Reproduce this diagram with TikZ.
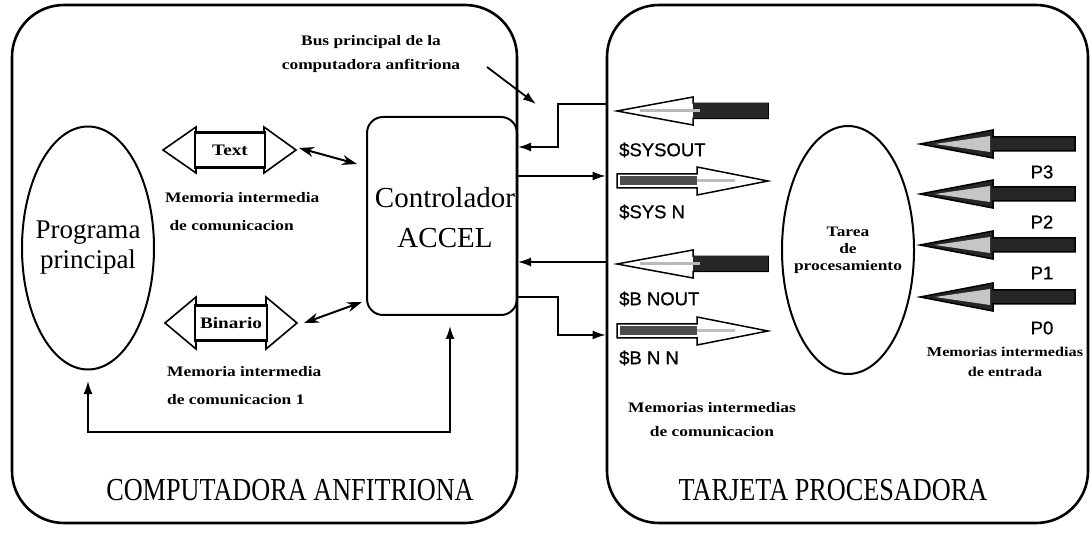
\documentclass[tikz,border=0pt]{standalone}
\usepackage{fontspec}
\setmainfont{Liberation Serif}
\newfontfamily\lblfont[FakeStretch=1.2]{Liberation Serif}
\newfontfamily\ttlfont[FakeStretch=0.82]{Liberation Serif}
\newfontfamily\lsans[FakeBold=0.8]{Liberation Sans}
\usetikzlibrary{arrows.meta,shapes.geometric,calc}

\tikzset{
  frame/.style={draw, line width=2.6pt, rounded corners=52pt, inner sep=0},
  ctrlbox/.style={draw, line width=2pt, rounded corners=16pt, inner sep=0},
  oval/.style={ellipse, draw, line width=2pt, inner sep=0},
  bigtxt/.style={font=\fontsize{27}{30}\selectfont, align=center, inner sep=0},
  ctrltxt/.style={font=\fontsize{29}{40}\selectfont, align=center, inner sep=0},
  ttl/.style={font=\ttlfont\fontsize{32}{38}\selectfont, inner sep=0},
  lbl/.style={font=\lblfont\bfseries\fontsize{14.5}{#1}\selectfont, inner sep=0},
  lbl/.default=26,
  sanslbl/.style={font=\lsans\fontsize{18.5}{22}\selectfont, inner sep=0, anchor=west},
  membox/.style={draw, line width=2.6pt, fill=white, minimum width=70pt, minimum height=35pt, inner sep=0, font=\lblfont\bfseries\fontsize{16}{18}\selectfont},
  memhead/.style={draw, line width=1.6pt, fill=white, line join=miter},
  conn/.style={line width=1.8pt},
  tipr/.style={-{Latex[length=13pt,width=9pt]}},
  dbl/.style={line width=2pt, {Stealth[length=15pt,width=10pt]}-{Stealth[length=15pt,width=10pt]}},
  outline/.style={draw, line width=1.5pt, fill=white, line join=miter},
}

% left-pointing block arrow: tipx, basex, tailx, y, half head, half shaft
\newcommand{\blkL}[6]{%
  \path[outline] (#1,#4) -- (#2,#4-#5) -- (#2,#4-#6) -- (#3,#4-#6) -- (#3,#4+#6) -- (#2,#4+#6) -- (#2,#4+#5) -- cycle;}
% right-pointing block arrow: tailx, basex, tipx, y, half head, half shaft
\newcommand{\blkR}[6]{%
  \path[outline] (#3,#4) -- (#2,#4-#5) -- (#2,#4-#6) -- (#1,#4-#6) -- (#1,#4+#6) -- (#2,#4+#6) -- (#2,#4+#5) -- cycle;}

\begin{document}
\begin{tikzpicture}[x=1pt,y=-1pt]
\useasboundingbox (0,0) rectangle (1092,534);

% frames
\node[frame, minimum width=505pt, minimum height=518pt] (host) at (264.5,264) {};
\node[frame, minimum width=481pt, minimum height=518pt] (card) at (847.5,264) {};

% host computer contents
\node[oval, minimum width=132pt, minimum height=243pt] (prog) at (88,248) {};
\node[bigtxt] (progtxt) at (prog.center) {Programa\\principal};

\node[ctrlbox, minimum width=150pt, minimum height=198pt] (ctrl) at (442,216) {};
\node[ctrltxt] (ctrltxt) at (445,218) {Controlador\\ACCEL};

% memory buffer "Text"
\path[memhead] (163,150) -- (196,127) -- (196,141) -- (264,141) -- (264,127) -- (296,150)
  -- (264,173) -- (264,159) -- (196,159) -- (196,173) -- cycle;
\node[membox] (txt) at (230,150) {Text};
\node[lbl=28, anchor=west, align=left] (m1) at (165,212) {Memoria intermedia\\\ de comunicacion};

% memory buffer "Binario"
\path[memhead] (165,323) -- (196,297) -- (196,314) -- (266,314) -- (266,297) -- (297,323)
  -- (266,349) -- (266,332) -- (196,332) -- (196,349) -- cycle;
\node[membox, minimum width=72pt] (bin) at (231,323) {Binario};
\node[lbl=28, anchor=west, align=left] (m2) at (167,386) {Memoria intermedia\\de comunicacion 1};

% double arrows to controller
\coordinate (d1a) at (299,148);
\coordinate (d1b) at (357,164);
\draw[dbl] (d1a) -- (d1b);
\coordinate (d2a) at (304,323);
\coordinate (d2b) at (362,302);
\draw[dbl] (d2a) -- (d2b);

% bus label and arrow
\node[lbl=24, align=center] (bus) at (371,54) {Bus principal de la\\computadora anfitriona};
\coordinate (busa) at (487,67);
\coordinate (busb) at (536,104);
\draw[conn, tipr] (busa) -- (busb);

% return loop
\coordinate (ltip) at (88,381);
\coordinate (rl) at (88,432);
\coordinate (rr) at (450,432);
\coordinate (rtip) at (450,326);
\draw[conn, {Latex[length=13pt,width=9pt]}-{Latex[length=13pt,width=9pt]}] (ltip) -- (rl) -- (rr) -- (rtip);

% connectors host <-> card
\draw[conn, tipr] (card.west |- 0,104) -- (558,104) -- (558,147) -- (ctrl.east |- 0,147);
\draw[conn, tipr] (ctrl.east |- 0,176) -- (card.west |- 0,176);
\draw[conn, tipr] (card.west |- 0,262) -- (ctrl.east |- 0,262);
\draw[conn, tipr] (ctrl.east |- 0,297) -- (558,297) -- (558,335) -- (card.west |- 0,335);

% communication block arrows in card
\blkL{617}{693}{768}{111}{14}{7.5}
\fill[black!85] (693,103.5) rectangle (768,118.5);
\draw[gray!55, line width=3pt] (640,111) -- (700,111);
\blkR{617}{697}{768}{181}{14}{7}
\fill[black!70] (619.5,176.5) rectangle (697,185.5);
\draw[gray!50, line width=3pt] (697,181) -- (735,181);
\blkL{617}{693}{768}{264}{14}{7.5}
\fill[black!85] (693,256.5) rectangle (768,271.5);
\draw[gray!55, line width=3pt] (640,264) -- (700,264);
\blkR{617}{697}{768}{331}{14}{7}
\fill[black!70] (619.5,326.5) rectangle (697,335.5);
\draw[gray!50, line width=3pt] (697,331) -- (735,331);

\node[sanslbl] (l1) at (619,150) {\$SYSOUT};
\node[sanslbl] (l2) at (619,212) {\$SYS N};
\node[sanslbl] (l3) at (619,299) {\$B NOUT};
\node[sanslbl] (l4) at (619,358) {\$B N N};
\node[lbl=24, align=center] (m3) at (712,420) {Memorias intermedias\\de comunicacion};

% processing task
\node[oval, minimum width=132pt, minimum height=248pt] (tarea) at (848,250) {};
\node[lbl=17, align=center] (tareatxt) at (tarea.center) {Tarea\\de\\procesamiento};

% input block arrows
\foreach \yy/\nm in {144/P3, 194/P2, 245/P1, 297/P0}{
  \path[draw, line width=1.5pt, fill=black!85, line join=miter]
    (920,\yy) -- (993,\yy-14) -- (993,\yy-7) -- (1075,\yy-7) -- (1075,\yy+7) -- (993,\yy+7) -- (993,\yy+14) -- cycle;
  \fill[gray!45] (935,\yy) -- (990,\yy-8) -- (990,\yy+8) -- cycle;
}
\node[sanslbl, anchor=center] (p3) at (1042,172) {P3};
\node[sanslbl, anchor=center] (p2) at (1042,222) {P2};
\node[sanslbl, anchor=center] (p1) at (1042,273) {P1};
\node[sanslbl, anchor=center] (p0) at (1042,328) {P0};
\node[lbl=20, align=center, font=\lblfont\bfseries\fontsize{13.5}{20}\selectfont] (m4) at (1005,362) {Memorias intermedias\\de entrada};

% titles
\node[ttl] (t1) at (290,490) {COMPUTADORA ANFITRIONA};
\node[ttl] (t2) at (833,490) {TARJETA PROCESADORA};
\end{tikzpicture}
\end{document}
